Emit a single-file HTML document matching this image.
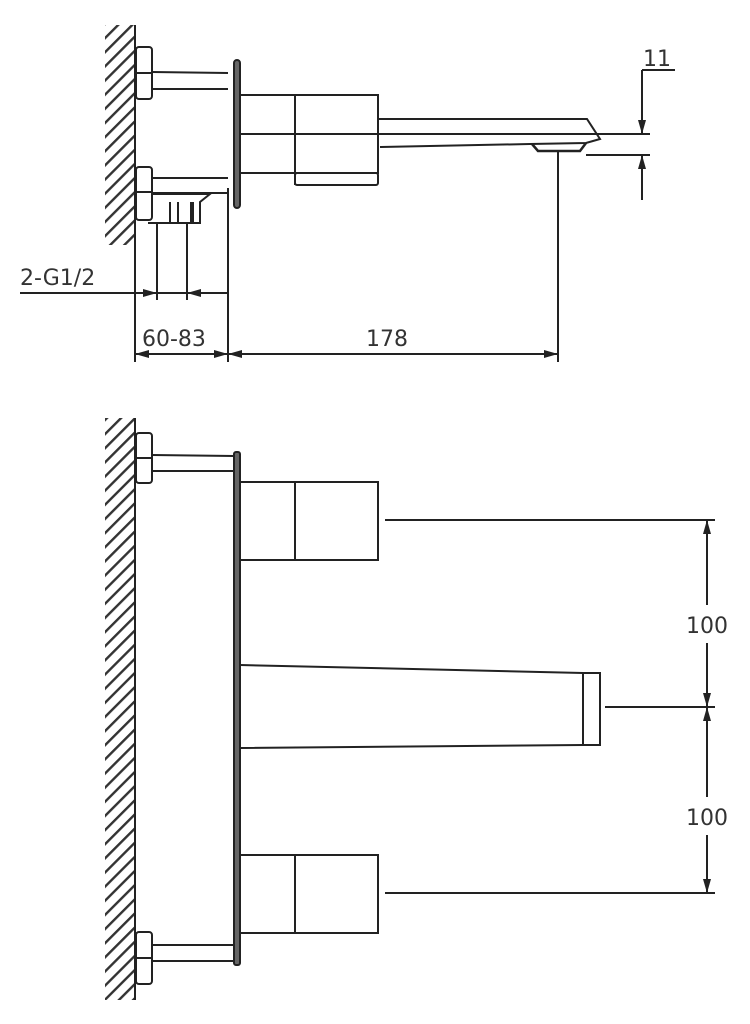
<!DOCTYPE html>
<html><head><meta charset="utf-8"><style>
html,body{margin:0;padding:0;background:#fff;width:750px;height:1024px;overflow:hidden}
svg{display:block}
text{font-family:"DejaVu Sans","Liberation Sans",sans-serif;fill:#333;font-size:22px}
</style></head><body>
<svg width="750" height="1024" viewBox="0 0 750 1024" xmlns="http://www.w3.org/2000/svg">
<defs>
<pattern id="h" width="10" height="10" patternUnits="userSpaceOnUse" patternTransform="rotate(-45)">
<rect width="10" height="10" fill="#fff"/><rect width="10" height="2.4" fill="#333"/>
</pattern>
</defs>
<g stroke="#222" stroke-width="2" fill="none">
<!-- TOP VIEW -->
<rect x="105" y="25" width="30" height="220" fill="url(#h)" stroke="none"/>
<line x1="135" y1="25" x2="135" y2="245"/>
<rect x="136" y="47" width="16" height="52" rx="3"/>
<line x1="136" y1="73" x2="152" y2="73"/>
<line x1="152" y1="72" x2="228" y2="73"/><line x1="152" y1="89" x2="228" y2="89"/>
<rect x="136" y="167" width="16" height="53" rx="3"/>
<line x1="136" y1="192" x2="152" y2="192"/>
<line x1="152" y1="178" x2="228" y2="178"/><line x1="152" y1="193" x2="228" y2="193"/>
<path d="M152,194 H210 L200,202 V223 H148"/>
<line x1="170" y1="202" x2="170" y2="223"/><line x1="178" y1="202" x2="178" y2="223"/>
<line x1="192" y1="202" x2="192" y2="223" stroke-width="4"/>
<rect x="234" y="60" width="6" height="148" rx="3" fill="#666"/>
<rect x="240" y="95" width="138" height="78"/>
<line x1="240" y1="134" x2="378" y2="134"/>
<line x1="295" y1="95" x2="295" y2="185"/>
<rect x="295" y="173" width="83" height="12" rx="2"/>
<path d="M378,119 H587 L600,139 L586,143 L530,144 L380,147"/>
<line x1="378" y1="134" x2="650" y2="134"/>
<path d="M532,144 L538,151 H580 L586,143" stroke-width="2.5"/>
<line x1="586" y1="155" x2="650" y2="155"/>
<line x1="642" y1="70" x2="642" y2="134"/>
<line x1="642" y1="200" x2="642" y2="155"/>
<line x1="642" y1="70" x2="675" y2="70"/>
<line x1="558" y1="152" x2="558" y2="362"/>
<line x1="135" y1="245" x2="135" y2="362"/>
<line x1="228" y1="188" x2="228" y2="362"/>
<line x1="157" y1="223" x2="157" y2="300"/>
<line x1="187" y1="223" x2="187" y2="300"/>
<line x1="20" y1="293" x2="228" y2="293"/>
<line x1="135" y1="354" x2="558" y2="354"/>
<!-- BOTTOM VIEW -->
<rect x="105" y="418" width="30" height="582" fill="url(#h)" stroke="none"/>
<line x1="135" y1="418" x2="135" y2="1000"/>
<rect x="136" y="433" width="16" height="50" rx="3"/>
<line x1="136" y1="458" x2="152" y2="458"/>
<line x1="152" y1="455" x2="234" y2="456"/><line x1="152" y1="471" x2="234" y2="471"/>
<rect x="136" y="932" width="16" height="52" rx="3"/>
<line x1="136" y1="958" x2="152" y2="958"/>
<line x1="152" y1="945" x2="234" y2="945"/><line x1="152" y1="961" x2="234" y2="961"/>
<rect x="234" y="452" width="6" height="513" rx="2" fill="#666"/>
<rect x="240" y="482" width="138" height="78"/>
<line x1="295" y1="482" x2="295" y2="560"/>
<rect x="240" y="855" width="138" height="78"/>
<line x1="295" y1="855" x2="295" y2="933"/>
<path d="M240,665 L583,673 L600,673 V745 L583,745 L240,748"/>
<line x1="583" y1="673" x2="583" y2="745"/>
<line x1="385" y1="520" x2="715" y2="520"/>
<line x1="605" y1="707" x2="715" y2="707"/>
<line x1="385" y1="893" x2="715" y2="893"/>
<line x1="707" y1="605" x2="707" y2="520"/>
<line x1="707" y1="643" x2="707" y2="707"/>
<line x1="707" y1="797" x2="707" y2="707"/>
<line x1="707" y1="835" x2="707" y2="893"/>
</g>
<g fill="#222">
<polygon points="642,134 638,120 646,120"/>
<polygon points="642,155 638,169 646,169"/>
<polygon points="157,293 143,289 143,297"/>
<polygon points="187,293 201,289 201,297"/>
<polygon points="135,354 149,350 149,358"/>
<polygon points="228,354 214,350 214,358"/>
<polygon points="228,354 242,350 242,358"/>
<polygon points="558,354 544,350 544,358"/>
<polygon points="707,520 703,534 711,534"/>
<polygon points="707,707 703,693 711,693"/>
<polygon points="707,707 703,721 711,721"/>
<polygon points="707,893 703,879 711,879"/>
</g>
<text x="643" y="66">11</text>
<text x="20" y="285">2-G1/2</text>
<text x="142" y="346">60-83</text>
<text x="366" y="346">178</text>
<text x="707" y="633" text-anchor="middle">100</text>
<text x="707" y="825" text-anchor="middle">100</text>
</svg>
</body></html>
